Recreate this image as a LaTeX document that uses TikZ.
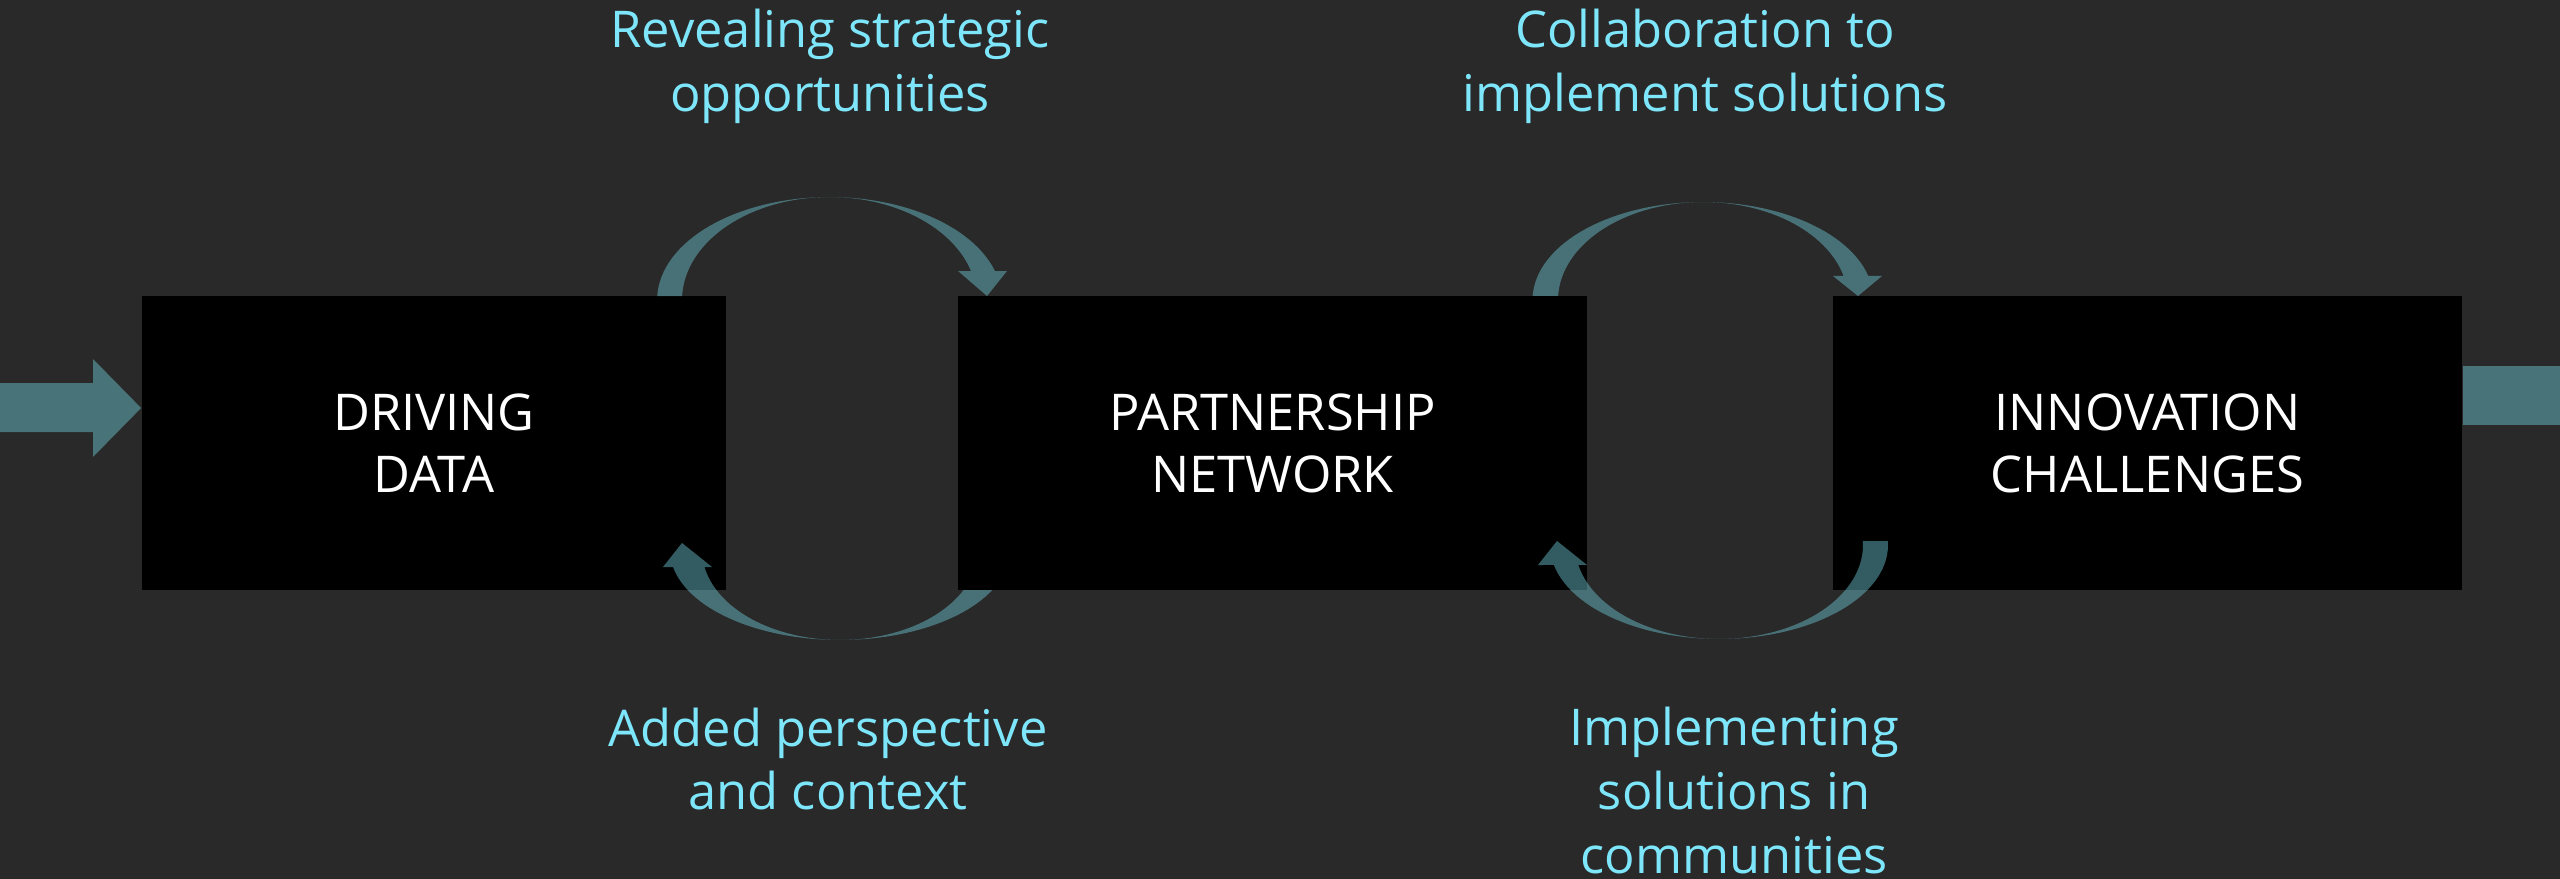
\documentclass[tikz,border=0pt]{standalone}
\usepackage{fontspec}
\setmainfont{Open Sans}
\definecolor{bgc}{RGB}{41,41,41}
\definecolor{blockc}{RGB}{72,115,121}
\definecolor{curvc}{RGB}{103,185,197}
\definecolor{lblc}{RGB}{125,230,250}
\tikzset{
  boxst/.style={fill=black, inner sep=0pt, minimum height=2.94cm},
  boxtxt/.style={text=white, inner sep=0pt, anchor=base, font=\fontsize{14.4pt}{18.2pt}\selectfont},
  lbl/.style={text=lblc, inner sep=0pt, anchor=base, font=\fontsize{14.4pt}{18.2pt}\selectfont},
  curv/.style={fill=curvc, fill opacity=0.5},
  blockarrow/.style={fill=blockc}
}
\begin{document}
\begin{tikzpicture}[x=0.01cm,y=-0.01cm]
\fill[bgc] (0,0) rectangle (2560,879);
\useasboundingbox (0,0) rectangle (2560,879);

% boxes
\node[boxst, minimum width=5.84cm] (b1) at (434,443) {};
\node[boxst, minimum width=6.29cm] (b2) at (1272.5,443) {};
\node[boxst, minimum width=6.29cm] (b3) at (2147.5,443) {};

\node[boxtxt] (t1a) at (434,430) {DRIVING};
\node[boxtxt] (t1b) at (434,492) {DATA};
\node[boxtxt] (t2a) at (1272.5,430) {PARTNERSHIP};
\node[boxtxt] (t2b) at (1272.5,492) {NETWORK};
\node[boxtxt] (t3a) at (2147.5,430) {INNOVATION};
\node[boxtxt] (t3b) at (2147.5,492) {CHALLENGES};

% block arrow in, bar out
\coordinate (inStart) at (0,408);
\fill[blockarrow] (inStart) ++(0,-25) -- (93,383) -- (93,359) -- (b1.west |- 0,408) -- (93,457) -- (93,432) -- (0,432) -- cycle;
\coordinate (outEnd) at (2560,395);
\fill[blockarrow] (b3.east |- 0,366) rectangle (2560,425);

% curved arrows
\fill[curv] plot[domain=177.8:16.35, samples=60] ({829.5+172.4*cos(\x)},{300-103*sin(\x)})
  -- (1007,271) -- (987,296) -- (958,271)
  -- plot[domain=16.35:177.8, samples=60] ({829.5+147.5*cos(\x)},{300-103*sin(\x)}) -- cycle;

\fill[curv] plot[domain=26.4:169.1, samples=60] ({840+170*cos(\x)},{550+90*sin(\x)})
  -- (663,567) -- (682,543) -- (712,567)
  -- plot[domain=169.1:26.4, samples=60] ({840+138*cos(\x)},{550+90*sin(\x)}) -- cycle;

\fill[curv] plot[domain=177.66:14.18, samples=60] ({1703+170.5*cos(\x)},{300-98*sin(\x)})
  -- (1882,276) -- (1858,296) -- (1833,276)
  -- plot[domain=14.18:177.66, samples=60] ({1703+145*cos(\x)},{300-98*sin(\x)}) -- cycle;

\fill[curv] plot[domain=-2.44:167.72, samples=60] ({1719+169*cos(\x)},{545+94*sin(\x)})
  -- (1538,565) -- (1557,541) -- (1587,565)
  -- plot[domain=167.72:-2.44, samples=60] ({1719+144*cos(\x)},{545+94*sin(\x)}) -- cycle;

% labels
\node[lbl] (l1a) at (830,48) {Revealing strategic};
\node[lbl] (l1b) at (830,112) {opportunities};
\node[lbl] (l2a) at (828,746) {Added perspective};
\node[lbl] (l2b) at (828,809) {and context};
\node[lbl] (l3a) at (1705,48) {Collaboration to};
\node[lbl] (l3b) at (1705,112) {implement solutions};
\node[lbl] (l4a) at (1734,745) {Implementing};
\node[lbl] (l4b) at (1734,809) {solutions in};
\node[lbl] (l4c) at (1734,873) {communities};
\end{tikzpicture}
\end{document}
